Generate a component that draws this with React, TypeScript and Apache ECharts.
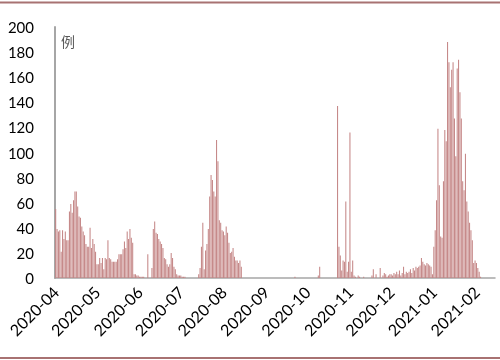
import React, { useEffect, useRef } from "react";
import * as echarts from "echarts";

// Daily counts, one array per month
const apr2020 = [55, 39, 37, 38, 21, 38, 31, 37, 30, 30, 53, 59, 52, 62, 69, 69, 57, 49, 48, 41, 37, 34, 27, 25, 25, 40, 24, 31, 27, 21];
const may2020 = [11, 11, 16, 12, 16, 7, 16, 15, 30, 16, 15, 13, 13, 13, 13, 15, 19, 19, 19, 23, 29, 24, 37, 31, 39, 32, 28, 3, 3, 2, 2];
const jun2020 = [1, 1, 1, 1, 0, 0, 19, 0, 0, 8, 39, 45, 36, 35, 31, 29, 27, 24, 16, 15, 11, 9, 11, 20, 16, 9, 7, 3, 2, 2];
const jul2020 = [2, 1, 1, 1, 0, 0, 0, 0, 0, 0, 0, 0, 0, 3, 8, 25, 44, 7, 22, 27, 39, 65, 82, 78, 69, 65, 110, 93, 46, 44, 38];
const aug2020 = [37, 34, 41, 36, 28, 20, 21, 24, 17, 14, 14, 12, 14, 9, 0, 0, 0, 0, 0, 0, 0, 0, 0, 0, 0, 0, 0, 0, 0, 0, 0];
const sep2020 = [0, 0, 0, 0, 0, 0, 0, 0, 0, 0, 0, 0, 0, 0, 0, 0, 0, 0, 0, 0, 0, 1, 0, 0, 0, 0, 0, 0, 0, 0];
const oct2020 = [0, 0, 0, 0, 0, 0, 0, 0, 2, 9, 0, 0, 0, 0, 0, 0, 0, 0, 0, 0, 0, 0, 137, 25, 18, 6, 14, 13, 61, 5, 13];
const nov2020 = [116, 5, 14, 2, 1, 0, 2, 1, 0, 0, 1, 0, 0, 0, 0, 0, 2, 7, 0, 3, 0, 0, 8, 0, 2, 4, 3, 1, 2, 3];
const dec2020 = [3, 2, 4, 3, 5, 3, 6, 2, 4, 9, 3, 5, 4, 5, 7, 4, 8, 6, 9, 8, 9, 10, 16, 13, 11, 10, 12, 11, 10, 9, 3];
const jan2021 = [25, 38, 62, 119, 74, 33, 32, 77, 118, 109, 188, 172, 152, 166, 172, 127, 97, 167, 174, 148, 127, 77, 70, 99, 61, 53, 44, 38, 30, 12, 14];
const feb2021 = [12, 8, 5, 1, 0, 0, 0, 0, 0, 0, 0, 0, 0, 0];

const months: [string, number[]][] = [
  ["2020-04", apr2020],
  ["2020-05", may2020],
  ["2020-06", jun2020],
  ["2020-07", jul2020],
  ["2020-08", aug2020],
  ["2020-09", sep2020],
  ["2020-10", oct2020],
  ["2020-11", nov2020],
  ["2020-12", dec2020],
  ["2021-01", jan2021],
  ["2021-02", feb2021],
];

const yTicks = { min: 0, max: 200, interval: 20 };
const unitLabel = "例";

export default function App() {
  const ref = useRef<HTMLDivElement>(null);
  useEffect(() => {
    if (!ref.current) return;
    const chart = echarts.init(ref.current, null, { renderer: "svg" });
    const categories: string[] = [];
    const values: number[] = [];
    months.forEach(([ym, vals]) => {
      vals.forEach((v, d) => {
        categories.push(`${ym}-${String(d + 1).padStart(2, "0")}`);
        values.push(v);
      });
    });
    const font = "Lato, 'Noto Sans', sans-serif";
    chart.setOption({
      animation: false,
      grid: { left: 55, right: 5, top: 27, bottom: 82, containLabel: false },
      xAxis: {
        type: "category",
        data: categories,
        boundaryGap: true,
        axisLine: { show: true, lineStyle: { color: "#a6a6a6", width: 1.5 } },
        axisTick: { show: false },
        axisLabel: {
          interval: (_i: number, v: string) => v.slice(8) === "01",
          formatter: (v: string) => v.slice(0, 7),
          rotate: 45,
          margin: 11,
          fontSize: 16,
          fontFamily: font,
          color: "#000",
        },
        splitLine: { show: false },
      },
      yAxis: {
        type: "value",
        min: yTicks.min,
        max: yTicks.max,
        interval: yTicks.interval,
        axisLine: { show: true, lineStyle: { color: "#a6a6a6", width: 2 } },
        axisTick: { show: false },
        axisLabel: { fontSize: 15, fontFamily: font, color: "#000", margin: 21 },
        splitLine: { show: false },
      },
      series: [
        {
          type: "bar",
          data: values,
          barCategoryGap: "25%",
          itemStyle: { color: "#c48585" },
        },
      ],
      graphic: [
        {
          type: "text",
          left: 61,
          top: 34,
          style: { text: unitLabel, fontSize: 14, fontFamily: "'Noto Sans CJK SC'", fill: "#595959" },
        },
        {
          type: "line",
          shape: { x1: 0, y1: 2.5, x2: 500, y2: 2.5 },
          style: { stroke: "#a87272", lineWidth: 2 },
        },
        {
          type: "line",
          shape: { x1: 0, y1: 358, x2: 500, y2: 358 },
          style: { stroke: "#a87272", lineWidth: 2 },
        },
      ],
    });
    return () => chart.dispose();
  }, []);
  return <div ref={ref} style={{ position: "fixed", left: 0, top: 0, width: 500, height: 360 }} />;
}
